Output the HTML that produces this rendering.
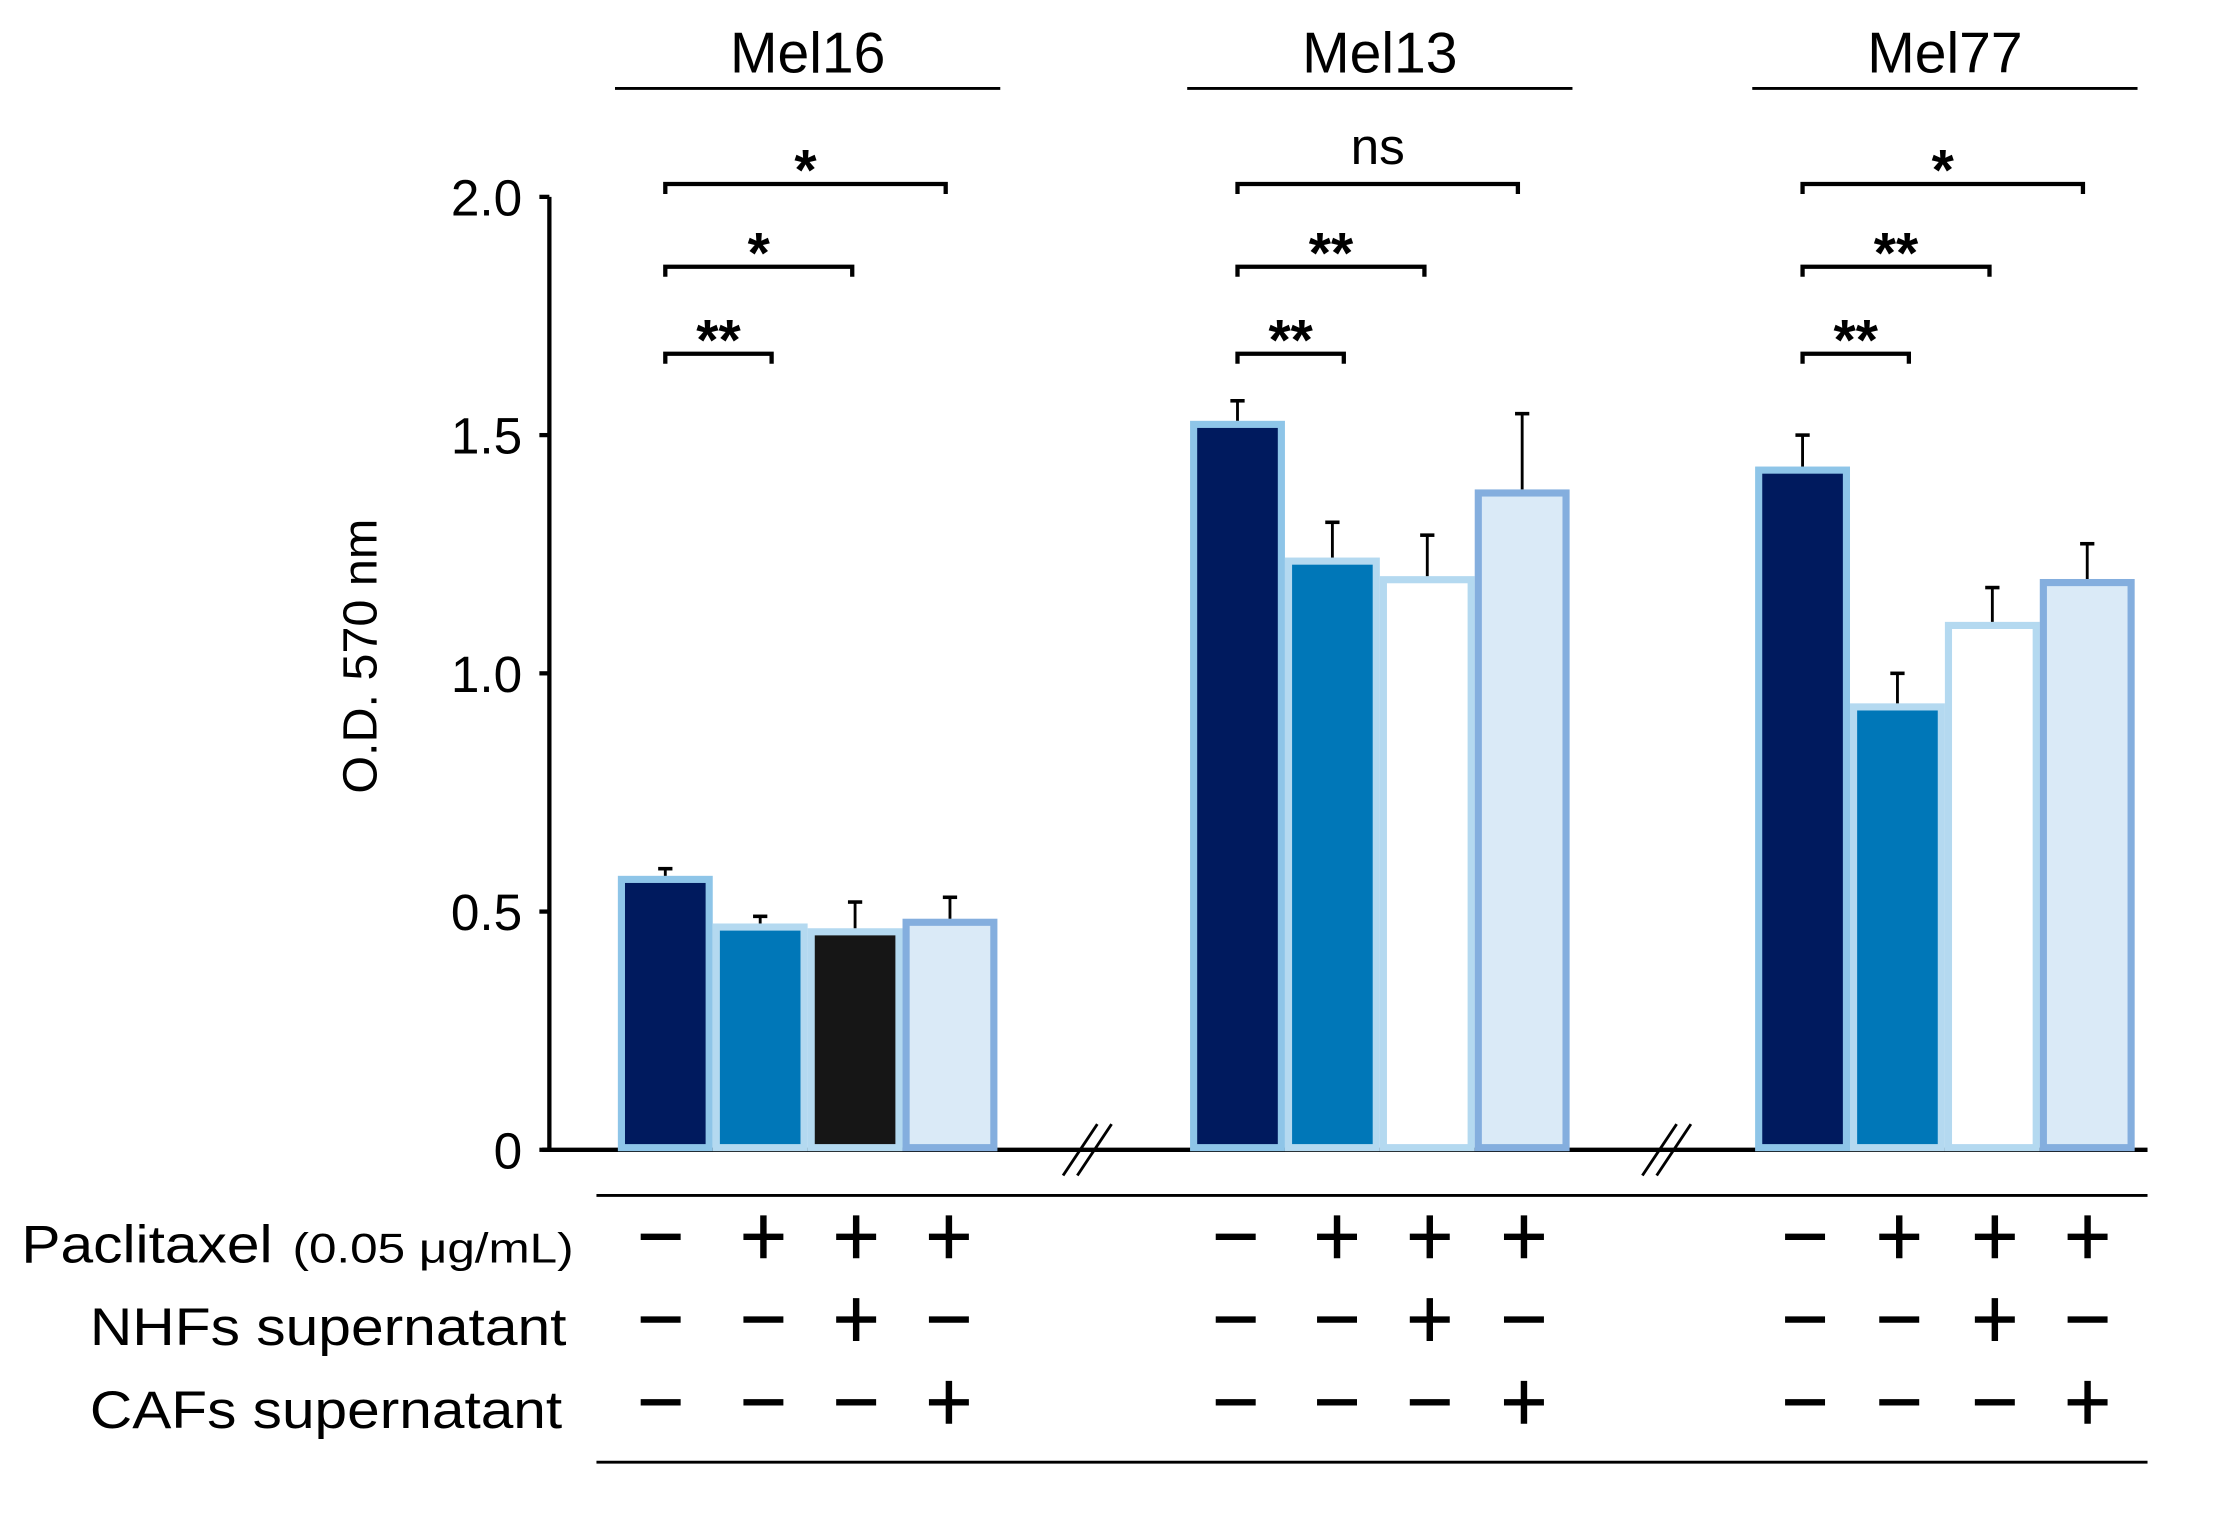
<!DOCTYPE html>
<html><head><meta charset="utf-8"><style>
html,body{margin:0;padding:0;background:#fff;width:2226px;height:1515px;overflow:hidden}
svg{display:block}
text{font-family:"Liberation Sans",sans-serif;fill:#000}
</style></head><body>
<svg id="chart" width="2226" height="1515" viewBox="0 0 1560 1062" preserveAspectRatio="none" xmlns="http://www.w3.org/2000/svg">
<g id="axes"></g>
<g id="bars"></g>
<g id="sig"></g>
<g id="table"></g>
</svg>
<script>
const groups = ["Mel16", "Mel13", "Mel77"];
const mel16Values = [0.575, 0.475, 0.465, 0.485];
const mel13Values = [1.53, 1.243, 1.204, 1.386];
const mel77Values = [1.434, 0.937, 1.108, 1.198];
const mel16Err = [0.59, 0.49, 0.52, 0.53];
const mel13Err = [1.572, 1.317, 1.29, 1.545];
const mel77Err = [1.5, 1.0, 1.18, 1.272];
const yTicks = [0, 0.5, 1.0, 1.5, 2.0];
const yTickLabels = ["0", "0.5", "1.0", "1.5", "2.0"];
const sigLabels = [["**", "*", "*"], ["**", "**", "ns"], ["**", "**", "*"]];
const rowLabels = ["Paclitaxel", "NHFs supernatant", "CAFs supernatant"];
const rowSigns = [["-", "+", "+", "+"], ["-", "-", "+", "-"], ["-", "-", "-", "+"]];

const values = [mel16Values, mel13Values, mel77Values];
const errs = [mel16Err, mel13Err, mel77Err];
const NS = "http://www.w3.org/2000/svg";
const y0 = 806, pxPerUnit = 334;
function yScale(v) { return y0 - v * pxPerUnit; }
const groupStart = [433, 834, 1230];
const barW = 66.5;
function xBar(g, i) { return groupStart[g] + i * barW; }
function mk(tag, attrs, parent) {
  const e = document.createElementNS(NS, tag);
  for (const k in attrs) e.setAttribute(k, attrs[k]);
  parent.appendChild(e); return e;
}
const axes = document.getElementById('axes');
const bars = document.getElementById('bars');
const sig = document.getElementById('sig');
const table = document.getElementById('table');

let el = mk('line', {x1: 385, y1: yScale(2), x2: 385, y2: y0 + 1.5, stroke: '#000', 'stroke-width': 3}, axes);


el = mk('line', {x1: 380, y1: y0, x2: 1505, y2: y0, stroke: '#000', 'stroke-width': 3}, axes);


yTicks.forEach((t, i) => {
  const tk = mk('line', {x1: 378, y1: yScale(t), x2: 385, y2: yScale(t), stroke: '#000', 'stroke-width': 3}, axes);
  
  
  const tx = mk('text', {x: 366, y: yScale(t) + 13, 'text-anchor': 'end', 'font-size': 36}, axes);
  tx.textContent = yTickLabels[i];
  
  
});
el = mk('text', {x: 0, y: 0, 'text-anchor': 'middle', 'font-size': 34, transform: 'translate(264,460) rotate(-90)'}, axes);
el.textContent = 'O.D. 570 nm';



[762, 1168].forEach(x => {
  [-5, 5].forEach(d => {
    const b = mk('line', {x1: x + d - 12, y1: y0 + 18, x2: x + d + 12, y2: y0 - 18, stroke: '#000', 'stroke-width': 2}, axes);
    
    
  });
});

const fills = ['#001a5e', '#0077b8', '#ffffff', '#daeaf7'];
const borders = ['#8ec5e8', '#b4d9f0', '#b4d9f0', '#84aede'];
values.forEach((vals, g) => {
  const cx = groupStart[g] + 2 * barW;
  const t = mk('text', {x: cx, y: 51, 'text-anchor': 'middle', 'font-size': 40}, axes);
  t.textContent = groups[g];
  
  
  const ln = mk('line', {x1: cx - 135, y1: 62, x2: cx + 135, y2: 62, stroke: '#000', 'stroke-width': 2}, axes);
  
  
  vals.forEach((v, i) => {
    const x = xBar(g, i);
    let fill = fills[i];
    if (g === 0 && i === 2) fill = '#161616';
    const top = yScale(v);
    const r = mk('rect', {x: x + 2.5, y: top + 2.5, width: barW - 5, height: y0 - top - 4, fill: fill, stroke: borders[i], 'stroke-width': 5}, bars);
    
    
    const ex = x + barW / 2, ey = yScale(errs[g][i]);
    const e1 = mk('line', {x1: ex, y1: top, x2: ex, y2: ey, stroke: '#000', 'stroke-width': 2}, bars);
    
    
    const e2 = mk('line', {x1: ex - 5, y1: ey, x2: ex + 5, y2: ey, stroke: '#000', 'stroke-width': 2.5}, bars);
    
    
  });
  const bx0 = groupStart[g] + barW / 2;
  const levels = [248, 187, 129];
  [1, 2, 3].forEach((j, k) => {
    const bx1 = groupStart[g] + j * barW + barW / 2 + (j === 1 ? 8 : (j === 2 ? -2 : -3));
    const yy = levels[k];
    const p = mk('path', {d: `M${bx0},${yy + 7} V${yy} H${bx1} V${yy + 7}`, fill: 'none', stroke: '#000', 'stroke-width': 3}, sig);
    
    
    const lab = sigLabels[g][k];
    const isNs = lab === 'ns';
    const st = mk('text', {x: (bx0 + bx1) / 2, y: isNs ? yy - 14 : yy + 4, 'text-anchor': 'middle', 'font-size': isNs ? 36 : 40, 'font-weight': isNs ? 'normal' : 'bold'}, sig);
    st.textContent = lab;
    
    
  });
});

el = mk('line', {x1: 418, y1: 838, x2: 1505, y2: 838, stroke: '#000', 'stroke-width': 2}, table);


el = mk('line', {x1: 418, y1: 1025, x2: 1505, y2: 1025, stroke: '#000', 'stroke-width': 2}, table);


const rowY = [872, 930, 988];
const symX = [[463, 535, 600, 665], [866, 937, 1002, 1068], [1265, 1331, 1398, 1463]];
rowLabels.forEach((lab, r) => {
  const tx = mk('text', {x: r === 0 ? 15 : 63, y: rowY[r] + 13, 'font-size': 37}, table);
  
  
  if (r === 0) {
    tx.setAttribute('textLength', 176);
    tx.setAttribute('lengthAdjust', 'spacingAndGlyphs');
    tx.textContent = lab;
    const t2 = mk('text', {x: 205, y: rowY[r] + 13, 'font-size': 29, textLength: 197, lengthAdjust: 'spacingAndGlyphs'}, table);
    t2.textContent = '(0.05 μg/mL)';
    
    
  } else {
    tx.setAttribute('textLength', r === 1 ? 334 : 331);
    tx.setAttribute('lengthAdjust', 'spacingAndGlyphs');
    tx.textContent = lab;
  }
  symX.forEach(xs => {
    xs.forEach((x, i) => {
      const s = rowSigns[r][i];
      const h = mk('line', {x1: x - 14, y1: rowY[r] - 5, x2: x + 14, y2: rowY[r] - 5, stroke: '#000', 'stroke-width': 4.5}, table);
      
      
      if (s === '+') {
        const v = mk('line', {x1: x, y1: rowY[r] - 20, x2: x, y2: rowY[r] + 10, stroke: '#000', 'stroke-width': 4.5}, table);
        
        
      }
    });
  });
});
</script>
</body></html>
